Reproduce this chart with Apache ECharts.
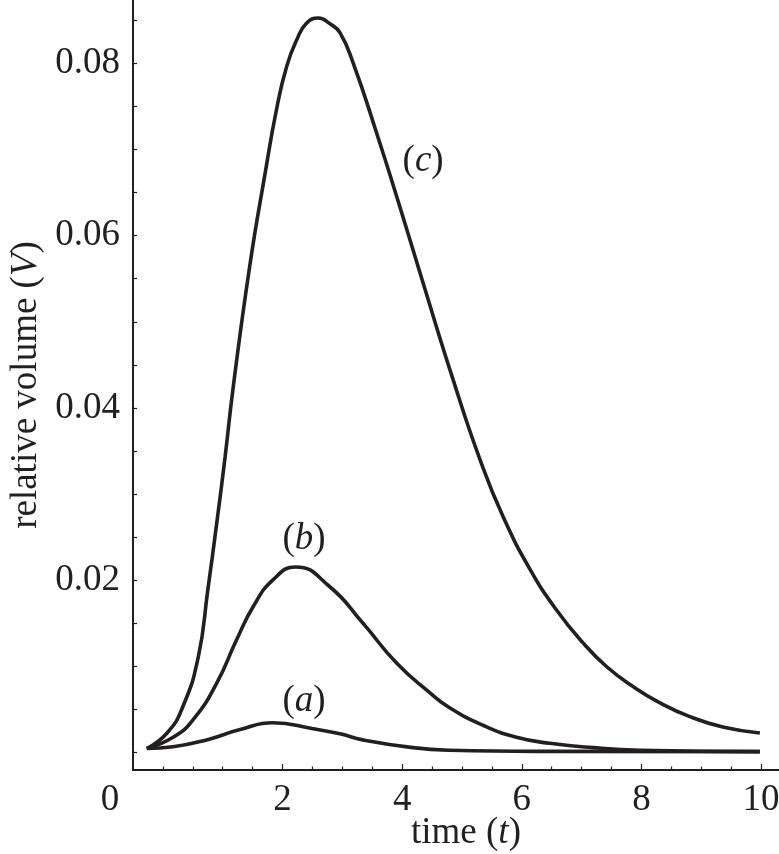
<!DOCTYPE html>
<html>
<head>
<meta charset="utf-8">
<script src="https://cdn.jsdelivr.net/npm/echarts@6/dist/echarts.min.js"></script>
<style>html,body{margin:0;padding:0;background:#fff}#c{width:779px;height:854px}</style>
</head>
<body>
<div id="c"></div>
<script>
// curve (a)
var curveA = [[-0.27,0.0004],[0.17,0.0006],[0.73,0.0014],[1.29,0.0026],[1.84,0.0034],[2.51,0.0027],[2.96,0.0021],[3.34,0.0014],[4.18,0.0005],[4.8,0.0002],[6.47,0.00006],[9.98,0.00003]];
// curve (b)
var curveB = [[-0.27,0.0004],[0.17,0.0017],[0.5,0.0037],[0.9,0.008],[1.23,0.013],[1.51,0.0169],[1.84,0.02],[2.22,0.0215],[2.79,0.0192],[3.34,0.015],[3.91,0.0103],[4.46,0.0069],[4.8,0.0051],[5.35,0.0031],[5.91,0.0017],[6.47,0.001],[7.19,0.0005],[7.98,0.0002],[9.98,0.00003]];
// curve (c)
var curveC = [[-0.27,0.0004],[0.07,0.0022],[0.33,0.0052],[0.59,0.011],[0.75,0.0188],[0.9,0.0266],[1.04,0.0343],[1.17,0.0421],[1.45,0.0564],[1.71,0.0673],[1.9,0.0747],[2.07,0.0797],[2.24,0.0828],[2.4,0.0847],[2.6,0.0853],[2.8,0.0846],[2.96,0.0836],[3.18,0.0801],[3.57,0.072],[3.96,0.0634],[4.35,0.0545],[4.85,0.0433],[5.3,0.034],[5.69,0.0273],[6.14,0.0212],[6.58,0.0165],[7.02,0.0127],[7.42,0.0099],[7.86,0.0076],[8.31,0.0057],[8.81,0.0041],[9.36,0.0029],[9.98,0.0022]];
var curveNames = ['a','b','c'];
var curveLabelPos = [[2.36,0.0059],[2.36,0.0247],[4.35,0.0687]];
var xLabelValues = [-0.5,2,4,6,8,10];
var xMajorTicks = [2,4,6,8,10];
var xMinorTicks = [0,0.5,1,1.5,2.5,3,3.5,4.5,5,5.5,6.5,7,7.5,8.5,9,9.5];
var yLabelValues = [0.02,0.04,0.06,0.08];
var yTicks = [0,0.005,0.01,0.015,0.02,0.025,0.03,0.035,0.04,0.045,0.05,0.055,0.06,0.065,0.07,0.075,0.08,0.085];

var INK = '#231f20';
var FONT = 'Liberation Serif';
var FS = 37;
var chart = echarts.init(document.getElementById('c'));
var lineSeries = [curveA, curveB, curveC].map(function (d) {
  return {type:'line', data:d, smooth:0.5, showSymbol:false, symbol:'none',
    lineStyle:{color:INK, width:3.6}, xAxisIndex:0, yAxisIndex:0, z:3};
});
var labelSeries = {
  type:'scatter', symbolSize:0, xAxisIndex:0, yAxisIndex:0,
  itemStyle:{opacity:1, color:INK},
  data: curveLabelPos.map(function (p, i) { return {value:p, name:curveNames[i]}; }),
  label:{show:true, position:'inside', color:INK, opacity:1,
    formatter:function (p) { return '{p|(}{i|' + p.name + '}{p|)}'; },
    rich:{p:{fontFamily:FONT, fontSize:FS, color:INK}, i:{fontFamily:FONT, fontSize:FS, fontStyle:'italic', color:INK}}}
};
chart.setOption({
  animation:false,
  grid:{left:133, right:0, top:0, bottom:84, containLabel:false, outerBoundsMode:'none'},
  xAxis:[{
    type:'value', min:-0.5, max:10.3,
    axisLine:{show:true, onZero:false, lineStyle:{color:INK, width:2}},
    axisTick:{show:true, inside:true, length:6, customValues:xMajorTicks, lineStyle:{color:INK, width:1.2}},
    splitLine:{show:false},
    axisLabel:{show:true, customValues:xLabelValues, margin:12, color:INK, fontFamily:FONT, fontSize:FS,
      formatter:function (v) { return v === -0.5 ? '{o|0}' : String(v); },
      rich:{o:{fontFamily:FONT, fontSize:FS, color:INK, padding:[0,46,0,0]}}},
    name:'{n|time (}{i|t}{n|)}', nameLocation:'middle', nameGap:45, nameMoveOverlap:false,
    nameTextStyle:{padding:[0,0,0,20], rich:{n:{fontFamily:FONT, fontSize:FS, color:INK}, i:{fontFamily:FONT, fontSize:FS, fontStyle:'italic', color:INK}}}
  },{
    type:'value', min:-0.5, max:10.3, position:'bottom', gridIndex:0,
    axisLine:{show:false, onZero:false},
    axisTick:{show:true, inside:true, length:3.5, customValues:xMinorTicks, lineStyle:{color:INK, width:1.2}},
    axisLabel:{show:false}, splitLine:{show:false}
  }],
  yAxis:[{
    type:'value', min:-0.0021, max:0.0874,
    axisLine:{show:true, onZero:false, lineStyle:{color:INK, width:2}},
    axisTick:{show:true, inside:true, length:4, customValues:yTicks, lineStyle:{color:INK, width:1.2}},
    splitLine:{show:false},
    axisLabel:{show:true, customValues:yLabelValues, margin:13, color:INK, fontFamily:FONT, fontSize:FS,
      formatter:function (v) { return v.toFixed(2); }},
    name:'{n|relative volume (}{i|V}{n|)}', nameLocation:'middle', nameGap:85, nameRotate:90,
    nameTextStyle:{rich:{n:{fontFamily:FONT, fontSize:FS, color:INK}, i:{fontFamily:FONT, fontSize:FS, fontStyle:'italic', color:INK}}}
  }],
  series: lineSeries.concat([labelSeries])
});
</script>
</body>
</html>
